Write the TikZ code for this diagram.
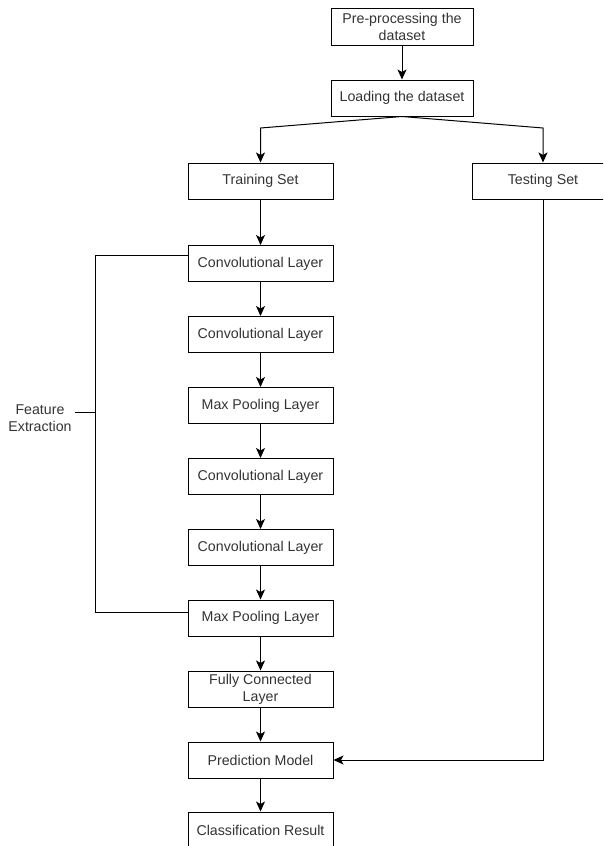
\documentclass[tikz,border=0pt]{standalone}
\usepackage{fontspec}
\setmainfont{Liberation Sans}
\usetikzlibrary{arrows.meta,positioning}
\definecolor{txtgray}{HTML}{333333}

\begin{document}
\begin{tikzpicture}[x=1pt,y=-1pt]
\tikzstyle{every node}+=[inner sep=0pt]
\tikzstyle{box}=[draw=black,line width=1pt,minimum width=145pt,minimum height=36pt,align=center,text=txtgray,font=\fontsize{14.2}{17}\selectfont]
\tikzstyle{arr}=[line width=1pt,-{Stealth[length=10pt,width=9pt,inset=2.5pt]}]
\tikzstyle{ln}=[line width=1pt]
\useasboundingbox (0,0) rectangle (603,846);
\clip (0,0) rectangle (603,846);
% top of the flow
\node [box,minimum width=142pt,minimum height=37pt] (pre) at (402,26.5) {Pre-processing the\\dataset};
\node [box,minimum width=142pt] (load) at (402,98) {Loading the dataset};
\node [box] (train) at (260.5,181) {Training Set};
\node [box,minimum width=142pt] (test) at (543,181) {Testing Set};
\coordinate (splitl) at (260.5,128);
\coordinate (splitr) at (543,128);
% feature extraction column
\node [box] (conv1) at (260.5,263.5) {Convolutional Layer};
\node [box] (conv2) at (260.5,334.5) {Convolutional Layer};
\node [box] (pool1) at (260.5,405.5) {Max Pooling Layer};
\node [box] (conv3) at (260.5,476.5) {Convolutional Layer};
\node [box] (conv4) at (260.5,547.5) {Convolutional Layer};
\node [box] (pool2) at (260.5,618) {Max Pooling Layer};
\node [box] (fc) at (260.5,689) {Fully Connected\\Layer};
\node [box] (pred) at (260.5,760) {Prediction Model};
\node [box] (cls) at (260.5,830) {Classification Result};
% bracket
\coordinate (ftop) at (95,255);
\coordinate (fbot) at (95,612);
\coordinate (fmid) at (95,412);
\node [align=center,text=txtgray,font=\fontsize{14.2}{17}\selectfont] (feat) at (40,418) {Feature\\Extraction};
\draw [arr] (pre) -- (load);
\draw [arr] (load.south) -- (splitl) -- (train.north);
\draw [arr] (load.south) -- (splitr) -- (test.north);
\draw [arr] (train) -- (conv1);
\draw [arr] (conv1) -- (conv2);
\draw [arr] (conv2) -- (pool1);
\draw [arr] (pool1) -- (conv3);
\draw [arr] (conv3) -- (conv4);
\draw [arr] (conv4) -- (pool2);
\draw [arr] (pool2) -- (fc);
\draw [arr] (fc) -- (pred);
\draw [arr] (pred) -- (cls);
\draw [arr] (test.south) |- (pred.east);
\draw [ln] (conv1.west |- ftop) -- (ftop) -- (fbot) -- (pool2.west |- fbot);
\draw [ln] ([xshift=3pt]feat.east |- fmid) -- (fmid);
\end{tikzpicture}
\end{document}
